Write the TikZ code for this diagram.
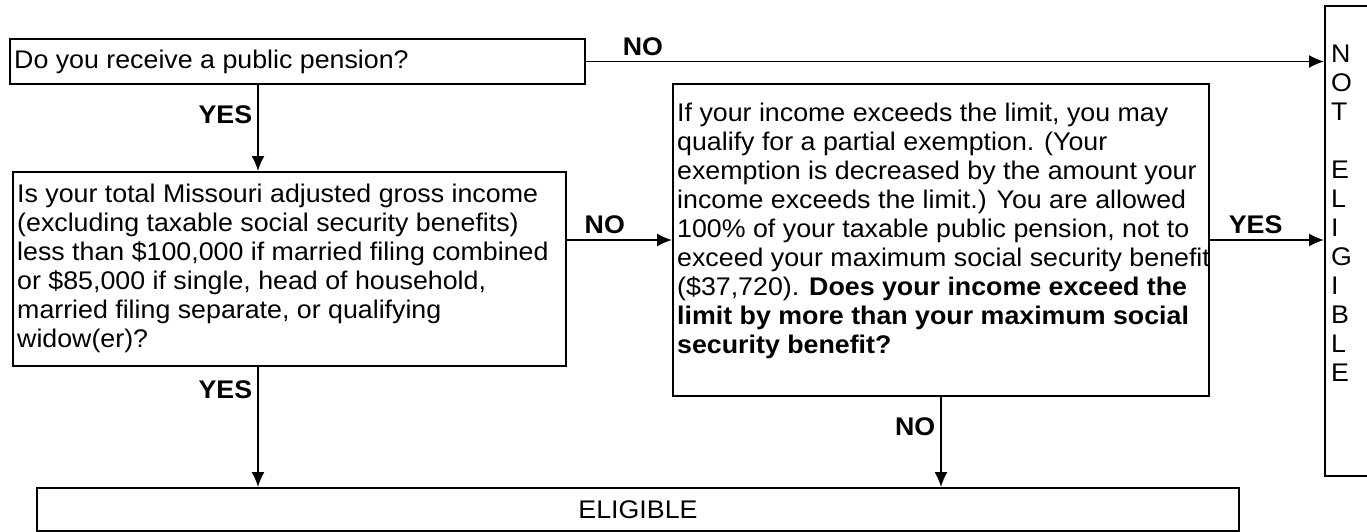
\documentclass[tikz,border=0pt]{standalone}
\usepackage{fontspec}
\setmainfont{Liberation Sans}[FakeStretch=1.05]
\usetikzlibrary{arrows.meta}
\tikzset{% arrow tips of the form
    >={Latex[length=15pt,width=13pt]}
}
\newcommand{\qfont}{\fontsize{25.5}{29}\selectfont}

\begin{document}
\begin{tikzpicture}[x=1pt,y=-1pt]
    \newcommand{\lw}{2pt} % line width of the boxes
    \newcommand{\pad}{5pt}

    % styles of the boxes, texts and arrows
    \tikzset{
        frame/.style={draw, line width=\lw, anchor=north west, inner sep=0pt},
        para/.style={anchor=north west, align=left, inner xsep=\pad, inner ysep=0pt, font=\qfont},
        tag/.style={font=\qfont\bfseries, inner sep=\pad},
        flow/.style={->, line width=1.6pt}
    }

    \useasboundingbox (0,0) rectangle (1367,531);

    % boxes
    \node[frame, minimum width=575pt, minimum height=45pt] (pension) at (9,38) {};
    \node[frame, minimum width=553pt, minimum height=194pt] (income) at (12,171) {};
    \node[frame, minimum width=536pt, minimum height=312pt] (limit) at (672,83) {};
    \node[frame, minimum width=60pt, minimum height=470pt] (notel) at (1324,5) {};
    \node[frame, minimum width=1202pt, minimum height=43pt, font=\qfont] (elig) at (36,487) {ELIGIBLE};

    % texts in the boxes
    \node[para, anchor=west] (pensiontext) at (pension.west) {Do you receive a public pension?};
    \node[para] (incometext) at ([yshift=-13pt]income.north west) {Is your total Missouri adjusted gross income\\
        (excluding taxable social security benefits)\\
        less than \$100,000 if married filing combined\\
        or \$85,000 if single, head of household,\\
        married filing separate, or qualifying\\
        widow(er)?};
    \node[para] (limittext) at ([yshift=-20pt]limit.north west) {If your income exceeds the limit, you may\\
        qualify for a partial exemption. (Your\\
        exemption is decreased by the amount your\\
        income exceeds the limit.) You are allowed\\
        100\% of your taxable public pension, not to\\
        exceed your maximum social security benefit\\
        (\$37,720). \textbf{Does your income exceed the}\\
        \textbf{limit by more than your maximum social}\\
        \textbf{security benefit?}};
    \node[para] (noteltext) at ([shift={(2pt,-40pt)}]notel.north west) {N\\O\\T\\[29pt]E\\L\\I\\G\\I\\B\\L\\E};

    % arrows
    \coordinate (yescol) at (258,0);
    \draw[flow] (pension.east) -- (pension.east -| notel.west) node[tag, pos=0.077, above] {NO};
    \draw[flow] (pension.south -| yescol) -- (income.north -| yescol) node[tag, pos=0.35, left] {YES};
    \draw[flow] (income.east |- limit.west) -- (limit.west) node[tag, pos=0.36, above] {NO};
    \draw[flow] (limit.east) -- (limit.east -| notel.west) node[tag, pos=0.4, above] {YES};
    \draw[flow] (income.south -| yescol) -- (elig.north -| yescol) node[tag, pos=0.19, left] {YES};
    \draw[flow] (limit.south) -- (limit.south |- elig.north) node[tag, pos=0.33, left] {NO};
\end{tikzpicture}
\end{document}
